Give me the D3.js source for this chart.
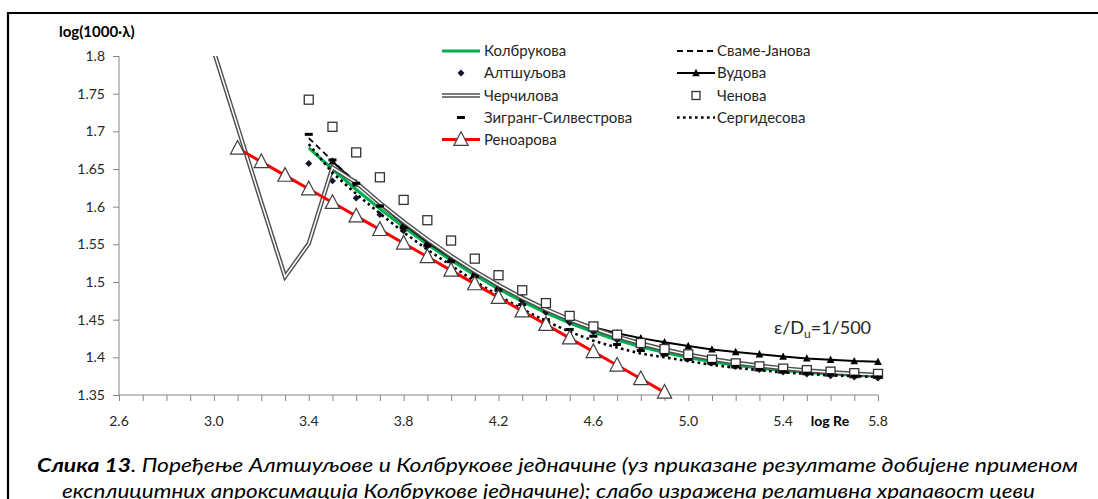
<!DOCTYPE html>
<html><head><meta charset="utf-8">
<script src="https://cdn.jsdelivr.net/npm/d3@7"></script>
<style>
html,body{margin:0;padding:0;background:#fff;}
svg{display:block;font-family:Lato,"Open Sans",sans-serif;}
</style></head>
<body>
<svg id="chart" width="1098" height="499"></svg>
<script>
// ---- data ----
const logRe = [3.4,3.5,3.6,3.7,3.8,3.9,4.0,4.1,4.2,4.3,4.4,4.5,4.6,4.7,4.8,4.9,5.0,5.1,5.2,5.3,5.4,5.5,5.6,5.7,5.8];
const kolbrukova = [1.6780,1.6497,1.6227,1.5971,1.5729,1.5501,1.5289,1.5090,1.4909,1.4742,1.4591,1.4457,1.4337,1.4232,1.4142,1.4064,1.3998,1.3942,1.3896,1.3858,1.3827,1.3801,1.3780,1.3763,1.3750];
const svameJanova = [1.6911,1.6607,1.6320,1.6050,1.5798,1.5562,1.5343,1.5141,1.4956,1.4788,1.4636,1.4501,1.4381,1.4276,1.4184,1.4105,1.4037,1.3979,1.3931,1.3890,1.3855,1.3827,1.3803,1.3784,1.3768];
const altsuljova = [1.6573,1.6342,1.6115,1.5894,1.5680,1.5473,1.5275,1.5087,1.4911,1.4746,1.4596,1.4459,1.4337,1.4229,1.4134,1.4053,1.3984,1.3926,1.3878,1.3837,1.3804,1.3777,1.3755,1.3738,1.3724];
const woodRe = [3.5,3.6,3.7,3.8,3.9,4.0,4.1,4.2,4.3,4.4,4.5,4.6,4.7,4.8,4.9,5.0,5.1,5.2,5.3,5.4,5.5,5.6,5.7,5.8];
const vudova = [1.660,1.631,1.603,1.577,1.553,1.532,1.513,1.495,1.479,1.464,1.451,1.440,1.432,1.4255,1.420,1.415,1.4105,1.407,1.404,1.401,1.3985,1.3967,1.395,1.394];
const churchillRe = [3.0,3.1,3.2,3.3,3.4,3.5,3.6,3.7,3.8,3.9,4.0,4.1,4.2,4.3,4.4,4.5,4.6,4.7,4.8,4.9,5.0,5.1,5.2,5.3,5.4,5.5,5.6,5.7,5.8];
const cercilova = [1.806,1.706,1.606,1.507,1.551,1.652,1.632,1.605,1.580,1.5565,1.5346,1.5143,1.4958,1.4790,1.4638,1.4502,1.4382,1.4276,1.4184,1.4104,1.4036,1.3978,1.3929,1.3888,1.3854,1.3825,1.3802,1.3783,1.3766];
const cenova = [1.742,1.706,1.672,1.639,1.609,1.582,1.555,1.531,1.509,1.489,1.472,1.455,1.441,1.430,1.419,1.411,1.404,1.397,1.392,1.388,1.385,1.383,1.381,1.379,1.378];
const zigrang = [1.696,1.662,1.631,1.601,1.572,1.548,1.527,1.507,1.489,1.470,1.450,1.437,1.428,1.417,1.409,1.403,1.397,1.392,1.388,1.384,1.381,1.379,1.377,1.375,1.374];
const sergidesova = [1.683,1.645,1.617,1.591,1.566,1.543,1.522,1.501,1.482,1.464,1.448,1.434,1.422,1.413,1.405,1.400,1.395,1.390,1.386,1.383,1.380,1.378,1.376,1.375,1.374];
const renoarRe = [3.1,3.2,3.3,3.4,3.5,3.6,3.7,3.8,3.9,4.0,4.1,4.2,4.3,4.4,4.5,4.6,4.7,4.8,4.9];
const renoarova = [1.6775,1.6595,1.6415,1.6235,1.6055,1.5875,1.5695,1.5515,1.5335,1.5155,1.4975,1.4795,1.4615,1.4435,1.4255,1.4075,1.3895,1.3715,1.3535];
const xTickLabels = ["2.6","3.0","3.4","3.8","4.2","4.6","5.0","5.4","5.8"];
const yTickLabels = ["1.35","1.4","1.45","1.5","1.55","1.6","1.65","1.7","1.75","1.8"];
const legendNames = ["Колбрукова","Сваме-Јанова","Алтшуљова","Вудова","Черчилова","Ченова","Зигранг-Силвестрова","Сергидесова","Реноарова"];
const yTitle = "log(1000·λ)";
const xTitle = "log Re";
const captionBold = "Слика 13";
const caption1 = ". Поређење Алтшуљове и Колбрукове једначине (уз приказане резултате добијене применом";
const caption2 = "експлицитних апроксимација Колбрукове једначине); слабо изражена релативна храпавост цеви";

// ---- drawing ----
const svg = d3.select("#chart");
const x = d3.scaleLinear().domain([2.6,5.8]).range([119,878]);
const y = d3.scaleLinear().domain([1.35,1.8]).range([395,56]);
const axisCol = "#868686", textCol = "#262626";

// frame
svg.append("line").attr("x1",8).attr("x2",1098).attr("y1",13).attr("y2",13).attr("stroke","#000").attr("stroke-width",2);
svg.append("line").attr("x1",8).attr("x2",8).attr("y1",12).attr("y2",499).attr("stroke","#000").attr("stroke-width",2.2);

// axes
const yAxis = d3.axisLeft(y).tickValues(yTickLabels.map(Number)).tickSize(6).tickPadding(8).tickFormat((d,i)=>yTickLabels[i]);
const gy = svg.append("g").attr("transform","translate(119,0)").call(yAxis);
const xAxis = d3.axisBottom(x).tickValues(d3.range(26,59).map(v=>v/10)).tickSize(6).tickFormat("");
const gx = svg.append("g").attr("transform","translate(0,395)").call(xAxis);
[gx,gy].forEach(g=>{
  g.select(".domain").attr("stroke",axisCol);
  g.selectAll(".tick line").attr("stroke",axisCol);
  g.selectAll("text").attr("fill",textCol).style("font-size","14px").style("font-family","Lato, sans-serif");
});
gx.select(".domain").attr("d","M119,0H878");
gy.select(".domain").attr("d","M0,56V395");
// x labels
svg.append("g").selectAll("text").data(xTickLabels).join("text")
  .attr("x",d=>x(+d)).attr("y",426).attr("text-anchor","middle")
  .attr("fill",textCol).style("font-size","14px").text(d=>d);
svg.append("text").attr("x",830).attr("y",426).attr("text-anchor","middle")
  .attr("fill","#000").style("font-size","14px").style("font-weight","bold").text(xTitle);
svg.append("text").attr("x",59).attr("y",37)
  .attr("fill","#000").style("font-size","15px").style("font-weight","bold").text(yTitle);

// clip
svg.append("clipPath").attr("id","plotclip").append("rect").attr("x",100).attr("y",56).attr("width",800).attr("height",360);
const plot = svg.append("g").attr("clip-path","url(#plotclip)");

const lineGen = (xs)=>d3.line().x((d,i)=>x(xs[i])).y(d=>y(d));

// series order: Colebrook, SJ, Altshul, Wood, Churchill, Chen, Zigrang, Sergides, Renouard
plot.append("path").attr("d",lineGen(logRe)(kolbrukova)).attr("fill","none").attr("stroke","#00B050").attr("stroke-width",3.2);
plot.append("path").attr("d",lineGen(logRe)(svameJanova)).attr("fill","none").attr("stroke","#000").attr("stroke-width",1.8).attr("stroke-dasharray","6,4");
plot.append("g").selectAll("path").data(altsuljova).join("path")
  .attr("d",d3.symbol().type(d3.symbolSquare).size(24)).attr("transform",(d,i)=>`translate(${x(logRe[i])},${y(d)}) rotate(45)`)
  .attr("fill","#17132e");
plot.append("path").attr("d",lineGen(woodRe)(vudova)).attr("fill","none").attr("stroke","#000").attr("stroke-width",2);
const tri = (s)=>`M0,${-s*0.6}L${s*0.55},${s*0.45}L${-s*0.55},${s*0.45}Z`;
plot.append("g").selectAll("path").data(vudova).join("path")
  .attr("transform",(d,i)=>`translate(${x(woodRe[i])},${y(d)})`).attr("d",tri(7)).attr("fill","#000");
const chPath = lineGen(churchillRe)(cercilova);
plot.append("path").attr("d",chPath).attr("fill","none").attr("stroke","#505050").attr("stroke-width",4.4).attr("stroke-linejoin","miter");
plot.append("path").attr("d",chPath).attr("fill","none").attr("stroke","#fff").attr("stroke-width",1.5);
plot.append("g").selectAll("rect").data(cenova).join("rect")
  .attr("x",(d,i)=>x(logRe[i])-4.5).attr("y",d=>y(d)-4.5).attr("width",9).attr("height",9)
  .attr("fill","#fff").attr("stroke","#333").attr("stroke-width",1.3);
plot.append("g").selectAll("rect").data(zigrang).join("rect")
  .attr("x",(d,i)=>x(logRe[i])-4).attr("y",d=>y(d)-1.5).attr("width",8).attr("height",3).attr("fill","#000");
plot.append("path").attr("d",lineGen(logRe)(sergidesova)).attr("fill","none").attr("stroke","#000").attr("stroke-width",2.6).attr("stroke-dasharray","2.6,3.4");
plot.append("path").attr("d",lineGen(renoarRe)(renoarova)).attr("fill","none").attr("stroke","#ff0000").attr("stroke-width",3);
plot.append("g").selectAll("path").data(renoarova).join("path")
  .attr("transform",(d,i)=>`translate(${x(renoarRe[i])},${y(d)})`).attr("d",tri(13)).attr("fill","#fff").attr("stroke","#404040").attr("stroke-width",1.2);

// annotation
const ann = svg.append("text").attr("x",774).attr("y",334).attr("fill",textCol).style("font-size","18px");
ann.append("tspan").text("ε/D");
ann.append("tspan").attr("dy",4).style("font-size","12px").text("u");
ann.append("tspan").attr("dy",-4).text("=1/500");

// legend
const legX = [442,677], txX = [484,717], rowY = [51,73,95.5,117.5,139.5];
const leg = svg.append("g").style("font-size","15px");
legendNames.forEach((name,i)=>{
  const col = i%2, row = Math.floor(i/2);
  const x0 = legX[col], x1 = legX[col]+38, cy = rowY[row], mx = (x0+x1)/2;
  const g = leg.append("g");
  if(i===0) g.append("line").attr("x1",x0).attr("x2",x1).attr("y1",cy).attr("y2",cy).attr("stroke","#00B050").attr("stroke-width",3.2);
  if(i===1) g.append("line").attr("x1",x0).attr("x2",x1).attr("y1",cy).attr("y2",cy).attr("stroke","#000").attr("stroke-width",1.8).attr("stroke-dasharray","6,4");
  if(i===2) g.append("path").attr("d",d3.symbol().type(d3.symbolSquare).size(24)).attr("transform",`translate(${mx},${cy}) rotate(45)`).attr("fill","#17132e");
  if(i===3){ g.append("line").attr("x1",x0).attr("x2",x1).attr("y1",cy).attr("y2",cy).attr("stroke","#000").attr("stroke-width",2);
    g.append("path").attr("d",tri(7)).attr("transform",`translate(${mx},${cy})`).attr("fill","#000"); }
  if(i===4){ g.append("line").attr("x1",x0).attr("x2",x1).attr("y1",cy).attr("y2",cy).attr("stroke","#505050").attr("stroke-width",4.4);
    g.append("line").attr("x1",x0).attr("x2",x1).attr("y1",cy).attr("y2",cy).attr("stroke","#fff").attr("stroke-width",1.5); }
  if(i===5) g.append("rect").attr("x",mx-4).attr("y",cy-4).attr("width",8).attr("height",8).attr("fill","#fff").attr("stroke","#333").attr("stroke-width",1.3);
  if(i===6) g.append("rect").attr("x",mx-4).attr("y",cy-1.5).attr("width",8).attr("height",3).attr("fill","#000");
  if(i===7) g.append("line").attr("x1",x0).attr("x2",x1).attr("y1",cy).attr("y2",cy).attr("stroke","#000").attr("stroke-width",2.6).attr("stroke-dasharray","2.6,3.4");
  if(i===8){ g.append("line").attr("x1",x0).attr("x2",x1).attr("y1",cy).attr("y2",cy).attr("stroke","#ff0000").attr("stroke-width",3);
    g.append("path").attr("d",tri(13)).attr("transform",`translate(${mx},${cy})`).attr("fill","#fff").attr("stroke","#404040").attr("stroke-width",1.2); }
  g.append("text").attr("x",txX[col]).attr("y",cy+5).attr("fill",textCol).text(name);
});

// caption
const c1 = svg.append("text").attr("x",37).attr("y",472).attr("fill","#000")
  .style("font-size","19px").style("font-style","italic").attr("textLength",1041).attr("lengthAdjust","spacingAndGlyphs");
c1.append("tspan").style("font-weight","bold").text(captionBold);
c1.append("tspan").text(caption1);
svg.append("text").attr("x",62).attr("y",498).attr("fill","#000")
  .style("font-size","19px").style("font-style","italic").attr("textLength",973).attr("lengthAdjust","spacingAndGlyphs").text(caption2);
</script>
</body></html>
